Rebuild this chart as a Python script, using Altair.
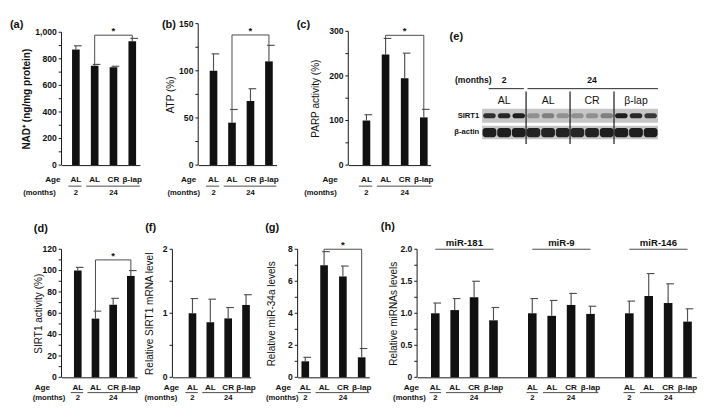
import altair as alt
import pandas as pd

FONT = "Liberation Sans"
INK = "#111111"
ERRC = "#505050"
LINEC = "#444444"

# ---------------- data ----------------
cat_labels = ["AL", "AL", "CR", "β-lap"]
cat_pos = [1, 2, 3, 4]
month_labels = ["2", "24"]
month_pos = [1, 3]

nad_mean = [870, 748, 736, 932]
nad_err = [28, 10, 8, 22]
atp_mean = [100, 45, 68, 110]
atp_err = [18, 14, 13, 17]
parp_mean = [100, 248, 195, 107]
parp_err = [13, 36, 56, 18]
sirt_act_mean = [100, 55, 68, 95]
sirt_act_err = [3, 7, 6, 5]
sirt_mrna_mean = [1.0, 0.86, 0.92, 1.13]
sirt_mrna_err = [0.23, 0.36, 0.17, 0.16]
mir34a_mean = [1.0, 7.0, 6.3, 1.25]
mir34a_err = [0.25, 0.85, 0.65, 0.55]

mir_names = ["miR-181", "miR-9", "miR-146"]
mir181_mean = [1.0, 1.05, 1.25, 0.89]
mir181_err = [0.16, 0.18, 0.25, 0.20]
mir9_mean = [1.0, 0.96, 1.13, 0.99]
mir9_err = [0.23, 0.24, 0.18, 0.12]
mir146_mean = [1.0, 1.27, 1.16, 0.87]
mir146_err = [0.19, 0.35, 0.30, 0.20]

# labelled ticks (value, text) and all ticks of each y axis
nad_labels = [0, 200, 400, 600, 800, 1000]
nad_text = ["0", "200", "400", "600", "800", "1,000"]
nad_ticks = [0, 100, 200, 300, 400, 500, 600, 700, 800, 900, 1000]
atp_labels = [0, 50, 100, 150]
atp_text = ["0", "50", "100", "150"]
atp_ticks = [0, 25, 50, 75, 100, 125, 150]
parp_labels = [0, 100, 200, 300]
parp_text = ["0", "100", "200", "300"]
parp_ticks = [0, 50, 100, 150, 200, 250, 300]
sirt_act_labels = [0, 20, 40, 60, 80, 100, 120]
sirt_act_text = ["0", "20", "40", "60", "80", "100", "120"]
sirt_act_ticks = [0, 10, 20, 30, 40, 50, 60, 70, 80, 90, 100, 110, 120]
sirt_mrna_labels = [0, 1, 2]
sirt_mrna_text = ["0", "1", "2"]
sirt_mrna_ticks = [0, 0.5, 1, 1.5, 2]
mir34a_labels = [0, 2, 4, 6, 8]
mir34a_text = ["0", "2", "4", "6", "8"]
mir34a_ticks = [0, 1, 2, 3, 4, 5, 6, 7, 8]
mirs_labels = [0, 0.5, 1.0, 1.5, 2.0]
mirs_text = ["0", "0.5", "1.0", "1.5", "2.0"]
mirs_ticks = [0, 0.25, 0.5, 0.75, 1.0, 1.25, 1.5, 1.75, 2.0]

blot_lanes = [1, 2, 3, 4, 5, 6, 7, 8, 9, 10, 11, 12]
blot_group_labels = ["AL", "AL", "CR", "β-lap"]
blot_group_lanes = [2, 5, 8, 11]
blot_month_lanes = [2, 8]
blot_sep = [3.5, 6.5, 9.5]
sirt1_band = [0.85, 0.9, 0.95, 0.3, 0.4, 0.3, 0.3, 0.3, 0.4, 0.95, 0.9, 0.8]
actin_band = [0.95, 0.95, 0.95, 0.92, 0.92, 0.92, 0.9, 0.92, 0.95, 0.95, 0.95, 0.95]

ONE = pd.DataFrame({"k": [0]})


def qx(field, dom, axis=alt.Undefined):
    return alt.X(field, type="quantitative",
                 scale=alt.Scale(domain=dom, nice=False, zero=False, padding=0), axis=axis)


def qy(field, dom, axis=alt.Undefined):
    return alt.Y(field, type="quantitative",
                 scale=alt.Scale(domain=dom, nice=False, zero=False, padding=0), axis=axis)


def txt(x, y, s, size=9, weight="bold", align="center"):
    return alt.Chart(ONE).mark_text(
        text=s, font=FONT, fontSize=size, fontWeight=weight, align=align,
        baseline="middle", color=INK).encode(x=alt.value(x), y=alt.value(y))


def y_axis(title, title_x, title_y, weight):
    return alt.Axis(labels=False, ticks=False, domain=False, grid=False,
                    title=title, titleX=title_x, titleY=title_y, titleAngle=270,
                    titleAlign="center", titleBaseline="middle", titleFont=FONT,
                    titleFontSize=10.5, titleFontWeight=weight, titleColor=INK)


X_AXIS = alt.Axis(domain=True, ticks=False, labels=False, title=None, grid=False,
                  domainColor=INK, domainWidth=1)


def bar_layers(df, xdom, ydom, yax, size, ymax, ticks, labels, texts):
    bars = alt.Chart(df).mark_bar(size=size, color=INK, orient="vertical").encode(
        x=qx("pos", xdom, X_AXIS), y=qy("mean", ydom, yax))
    yline = alt.Chart(pd.DataFrame({"y0": [0], "y1": [ymax]})).mark_rule(
        color=INK, strokeWidth=1).encode(x=alt.value(0), y=qy("y0", ydom), y2=alt.Y2("y1"))
    tick = alt.Chart(pd.DataFrame({"t": ticks})).mark_rule(color=INK, strokeWidth=1).encode(
        x=alt.value(-3), x2=alt.value(0), y=qy("t", ydom))
    lab = alt.Chart(pd.DataFrame({"v": labels, "s": texts})).mark_text(
        font=FONT, fontSize=9, fontWeight="bold", color=INK, align="right",
        baseline="middle").encode(x=alt.value(-5), y=qy("v", ydom), text="s:N")
    err = alt.Chart(df).mark_rule(color=ERRC, strokeWidth=1.2).encode(
        x=qx("pos", xdom), y=qy("mean", ydom), y2=alt.Y2("top"))
    cap = alt.Chart(df).mark_rule(color=ERRC, strokeWidth=1.2, xOffset=-2, x2Offset=6).encode(
        x=qx("pos", xdom), x2=alt.X2("pos"), y=qy("top", ydom))
    return [bars, yline, tick, lab, err, cap]


def anchor(L, R, T, B):
    # two 1-px white dots that fix the cell's bounding box
    dot = dict(shape="square", size=1, filled=True, color="white", opacity=1, strokeWidth=0)
    return [alt.Chart(ONE).mark_point(**dot).encode(x=alt.value(L + 0.5), y=alt.value(T + 0.5)),
            alt.Chart(ONE).mark_point(**dot).encode(x=alt.value(R - 0.5), y=alt.value(B - 0.5))]


def std_panel(means, errs, w, h, top, xdom, ymax, labels, texts, ticks, title, title_x, weight,
              letter, lxy, age_dx, months_dx, rows, box, bracket=None):
    ydom = [0, ymax * h / (h - top)]
    df = pd.DataFrame({"pos": cat_pos, "mean": means,
                       "top": [m + e for m, e in zip(means, errs)], "label": cat_labels})
    yax = y_axis(title, title_x, top + (h - top) / 2, weight)
    layers = bar_layers(df, xdom, ydom, yax, 8, ymax, ticks, labels, texts)
    age_dy, line_dy, months_dy = rows
    layers.append(alt.Chart(df).mark_text(font=FONT, fontSize=8.5, fontWeight="bold",
                                          color=INK, baseline="middle").encode(
        x=qx("pos", xdom), y=alt.value(h + age_dy), text="label:N"))
    dm = pd.DataFrame({"pos": month_pos, "label": month_labels})
    layers.append(alt.Chart(dm).mark_text(font=FONT, fontSize=8, fontWeight="bold",
                                          color=INK, baseline="middle").encode(
        x=qx("pos", xdom), y=alt.value(h + months_dy), text="label:N"))
    du = pd.DataFrame({"a": [cat_pos[0] - 0.4, cat_pos[1] - 0.45],
                       "b": [cat_pos[0] + 0.3, cat_pos[3] + 0.4]})
    layers.append(alt.Chart(du).mark_rule(color=LINEC, strokeWidth=1).encode(
        x=qx("a", xdom), x2=alt.X2("b"), y=alt.value(h + line_dy)))
    layers += [txt(age_dx, h + age_dy, "Age", size=8.5, align="right"),
               txt(months_dx, h + months_dy, "(months)", size=8, align="right"),
               txt(lxy[0], lxy[1], letter, size=11.5, align="left")]
    if bracket is not None:
        i, j = 1, 3
        dh = pd.DataFrame({"a": [cat_pos[i]], "b": [cat_pos[j]], "y": [bracket]})
        dv = pd.DataFrame({"x": [cat_pos[i], cat_pos[j]],
                           "y": [df["top"][i], df["top"][j]], "y2": [bracket, bracket]})
        ds = pd.DataFrame({"x": [(cat_pos[i] + cat_pos[j]) / 2], "y": [bracket]})
        layers.append(alt.Chart(dh).mark_rule(color=LINEC, strokeWidth=1).encode(
            x=qx("a", xdom), x2=alt.X2("b"), y=qy("y", ydom)))
        layers.append(alt.Chart(dv).mark_rule(color=LINEC, strokeWidth=1).encode(
            x=qx("x", xdom), y=qy("y", ydom), y2=alt.Y2("y2")))
        layers.append(alt.Chart(ds).mark_text(text="*", font=FONT, fontSize=10,
                                              fontWeight="bold", color=INK, dy=-4).encode(
            x=qx("x", xdom), y=qy("y", ydom)))
    layers += anchor(*box)
    return alt.layer(*layers).properties(width=w, height=h)


def mir_panel(w, h, xdom, rows, box):
    means = [mir181_mean, mir9_mean, mir146_mean]
    errs = [mir181_err, mir9_err, mir146_err]
    offs = [0, 5, 10]
    pos, mean, top, lab = [], [], [], []
    mpos, mlab, ua, ub = [], [], [], []
    for g, off in enumerate(offs):
        for k in range(4):
            pos.append(cat_pos[k] + off)
            mean.append(means[g][k])
            top.append(means[g][k] + errs[g][k])
            lab.append(cat_labels[k])
        for k in range(2):
            mpos.append(month_pos[k] + off)
            mlab.append(month_labels[k])
        ua += [cat_pos[0] + off - 0.3, cat_pos[1] + off - 0.45]
        ub += [cat_pos[0] + off + 0.3, cat_pos[3] + off + 0.4]
    age_dy, line_dy, months_dy = rows
    ydom = [0, 2]
    df = pd.DataFrame({"pos": pos, "mean": mean, "top": top, "label": lab})
    yax = y_axis("Relative miRNAs levels", -25, h / 2, "normal")
    layers = bar_layers(df, xdom, ydom, yax, 9, 2, mirs_ticks, mirs_labels, mirs_text)
    layers.append(alt.Chart(df).mark_text(font=FONT, fontSize=8.5, fontWeight="bold",
                                          color=INK, baseline="middle").encode(
        x=qx("pos", xdom), y=alt.value(h + age_dy), text="label:N"))
    dm = pd.DataFrame({"pos": mpos, "label": mlab})
    layers.append(alt.Chart(dm).mark_text(font=FONT, fontSize=8, fontWeight="bold",
                                          color=INK, baseline="middle").encode(
        x=qx("pos", xdom), y=alt.value(h + months_dy), text="label:N"))
    du = pd.DataFrame({"a": ua, "b": ub})
    layers.append(alt.Chart(du).mark_rule(color=LINEC, strokeWidth=1).encode(
        x=qx("a", xdom), x2=alt.X2("b"), y=alt.value(h + line_dy)))
    dt = pd.DataFrame({"x": [o + 2.5 for o in offs], "a": [o + 1 for o in offs],
                       "b": [o + 4 for o in offs], "y": [2.0, 2.0, 2.0], "name": mir_names})
    layers.append(alt.Chart(dt).mark_rule(color=LINEC, strokeWidth=1).encode(
        x=qx("a", xdom), x2=alt.X2("b"), y=qy("y", ydom)))
    layers.append(alt.Chart(dt).mark_text(font=FONT, fontSize=10, fontWeight="bold",
                                          color=INK, dy=-6).encode(
        x=qx("x", xdom), y=qy("y", ydom), text="name:N"))
    layers += [txt(2, h + age_dy, "Age", size=8.5, align="right"),
               txt(9, h + months_dy, "(months)", size=8, align="right"),
               txt(-38, -23, "(h)", size=11.5, align="left")]
    layers += anchor(*box)
    return alt.layer(*layers).properties(width=w, height=h)


def blot_panel(w, h, top, box):
    xdom = [0.5, 12.5]
    y0px = top + 32
    ydom = [-(h - y0px) / 16, y0px / 16]
    strips = pd.DataFrame({"a": [0.5, 0.5], "b": [12.5, 12.5],
                           "y": [1.08, 0.0], "y2": [2.0, 0.88]})
    rows = []
    for lane, v in zip(blot_lanes, sirt1_band):
        rows.append({"a": lane - 0.43, "b": lane + 0.43, "y": 1.54 - 0.17, "y2": 1.54 + 0.17, "o": v})
    for lane, v in zip(blot_lanes, actin_band):
        rows.append({"a": lane - 0.47, "b": lane + 0.47, "y": 0.44 - 0.3, "y2": 0.44 + 0.3, "o": v})
    bands = pd.DataFrame(rows)
    layers = [
        alt.Chart(strips).mark_rect(color="#c6c6c6").encode(
            x=qx("a", xdom, None), x2=alt.X2("b"), y=qy("y", ydom, None), y2=alt.Y2("y2")),
        alt.Chart(bands).mark_rect(color="#151515", cornerRadius=3).encode(
            x=qx("a", xdom), x2=alt.X2("b"), y=qy("y", ydom), y2=alt.Y2("y2"),
            opacity=alt.Opacity("o:Q", scale=None, legend=None)),
        alt.Chart(pd.DataFrame({"x": blot_sep})).mark_rule(color="#222222", strokeWidth=1.3).encode(
            x=qx("x", xdom), y=alt.value(top - 18), y2=alt.value(top + 37)),
        alt.Chart(pd.DataFrame({"a": [0.95, 3.6], "b": [3.35, 12.5]})).mark_rule(
            color="#222222", strokeWidth=1).encode(
            x=qx("a", xdom), x2=alt.X2("b"), y=alt.value(top - 21)),
        alt.Chart(pd.DataFrame({"x": blot_month_lanes, "t": month_labels})).mark_text(
            font=FONT, fontSize=9, fontWeight="bold", color=INK, baseline="middle").encode(
            x=qx("x", xdom), y=alt.value(top - 30), text="t:N"),
        alt.Chart(pd.DataFrame({"x": blot_group_lanes, "t": blot_group_labels})).mark_text(
            font=FONT, fontSize=11, color=INK, baseline="middle").encode(
            x=qx("x", xdom), y=alt.value(top - 8), text="t:N"),
        txt(10, top - 30, "(months)", size=9, align="right"),
        txt(-3, top + 7.5, "SIRT1", size=8, align="right"),
        txt(-3, top + 24.5, "β-actin", size=8, align="right"),
        txt(-34, top - 75, "(e)", size=11.5, align="left"),
    ]
    layers += anchor(*box)
    return alt.layer(*layers).properties(width=w, height=h)


TOP = (15, 22, 29)
BOT = (10, 16, 22)
HT = 148
HB = 134
TT, TB = -6, 191      # top-row cell extent relative to plot top (page 14)
BT, BB = -43, 162     # bottom-row cell extent relative to plot top (page 248)

pa = std_panel(nad_mean, nad_err, 82, HT, 9, [0.237, 4.406], 1000, nad_labels, nad_text,
               nad_ticks, "NAD⁺ (ng/mg protein)", -36, "bold", "(a)", (-54, 2), -1, -6, TOP,
               (-55, 97, TT, TB), bracket=978)
pb = std_panel(atp_mean, atp_err, 82, HT, 0, [0.172, 4.414], 150, atp_labels, atp_text,
               atp_ticks, "ATP (%)", -29, "normal", "(b)", (-38, 2), -2, 2, TOP,
               (-44, 96, TT, TB), bracket=138)
pc = std_panel(parp_mean, parp_err, 86, HT, 8, [0.05, 4.35], 300, parp_labels, parp_text,
               parp_ticks, "PARP activity (%)", -34, "normal", "(c)", (-54, 2), -11, -12, TOP,
               (-59, 98, TT, TB), bracket=291)
pe = blot_panel(184, HT, 89, (-40, 204, TT, TB))

pd_ = std_panel(sirt_act_mean, sirt_act_err, 79, HB, 0, [0.081, 4.35], 120, sirt_act_labels,
                sirt_act_text, sirt_act_ticks, "SIRT1 activity (%)", -24, "normal", "(d)",
                (-29, -21), -12, 4, BOT, (-30, 85.5, BT, BB), bracket=110)
pf = std_panel(sirt_mrna_mean, sirt_mrna_err, 82, HB, 0, [-0.125, 4.267], 2, sirt_mrna_labels,
               sirt_mrna_text, sirt_mrna_ticks, "Relative SIRT1 mRNA level", -24, "normal",
               "(f)", (-28.5, -22), 7, 5, BOT, (-29.5, 93, BT, BB))
pg = std_panel(mir34a_mean, mir34a_err, 75, HB, 0, [0.593, 4.406], 8, mir34a_labels,
               mir34a_text, mir34a_ticks, "Relative miR-34a levels", -27, "normal", "(g)",
               (-34, -22), -7, 1, BOT, (-36, 80, BT, BB), bracket=8.0)
ph = mir_panel(292, HB, [0.064, 14.448], BOT, (-43, 296, BT, BB))

top_row = alt.hconcat(pa, pb, pc, pe, spacing=0)
bottom_row = alt.hconcat(pd_, pf, pg, ph, spacing=0)

chart = alt.vconcat(top_row, bottom_row, spacing=0, padding=0).configure_view(
    stroke="transparent")

chart.save("out.html", embed_options={"renderer": "svg", "actions": False})
